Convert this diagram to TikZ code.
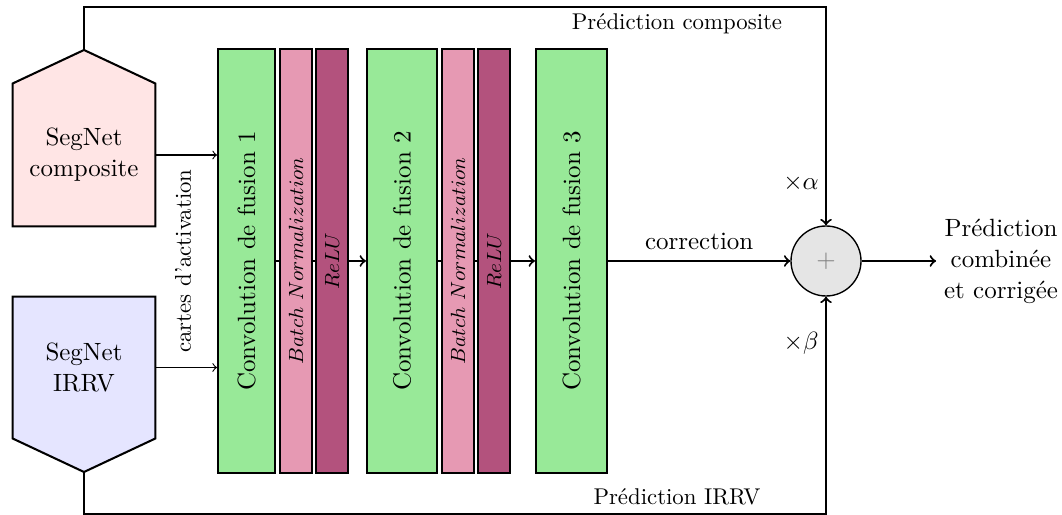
\documentclass[tikz,border=0pt]{standalone}
\usepackage{fontspec}
\usetikzlibrary{backgrounds}
\def\pxu{0.4386pt}
\definecolor{convgreen}{RGB}{152,233,152}
\definecolor{bnpink}{RGB}{230,153,179}
\definecolor{relupink}{RGB}{179,82,125}
\definecolor{compfill}{RGB}{255,229,229}
\definecolor{irrvfill}{RGB}{229,229,255}
\begin{document}
\begin{tikzpicture}[x=\pxu,y=-\pxu,
  every node/.style={font=\fontsize{10.95}{13.6}\selectfont},
  smalltext/.style={font=\fontsize{10}{12}\selectfont},
  mainline/.style={line width=0.9pt},
  thinline/.style={line width=0.5pt},
  layerbox/.style={draw, line width=0.9pt, inner sep=0pt, minimum height=424*\pxu},
  convbox/.style={layerbox, fill=convgreen},
  bnbox/.style={layerbox, fill=bnpink, minimum width=32*\pxu, font=\fontsize{9}{11}\selectfont},
  relubox/.style={layerbox, fill=relupink, minimum width=32*\pxu, font=\fontsize{9.5}{11.5}\selectfont},
  segbox/.style={inner sep=0pt, align=center, minimum width=142*\pxu},
]
\useasboundingbox (0,0) rectangle (1062,515);

% SegNet sources
\node[segbox, minimum height=142*\pxu] (segc) at (84,155) {SegNet\\composite};
\node[segbox, minimum height=141*\pxu] (segi) at (84,367.5) {SegNet\\IRRV};
\coordinate (capex) at (84,50);
\coordinate (iapex) at (84,472);
\begin{scope}[on background layer]
  \draw[mainline, fill=compfill] (segc.south west) -- (segc.north west) -- (capex) -- (segc.north east) -- (segc.south east) -- cycle;
  \draw[mainline, fill=irrvfill] (segi.north west) -- (segi.south west) -- (iapex) -- (segi.south east) -- (segi.north east) -- cycle;
\end{scope}

% layers
\node[convbox, minimum width=57*\pxu] (c1) at (246.5,261) {\rotatebox{90}{Convolution de fusion 1}};
\node[bnbox] (bn1) at (296,261) {\rotatebox{90}{$Batch\ Normalization$}};
\node[relubox] (r1) at (332,261) {\rotatebox{90}{$ReLU$}};
\node[convbox, minimum width=70*\pxu] (c2) at (402,261) {\rotatebox{90}{Convolution de fusion 2}};
\node[bnbox] (bn2) at (458,261) {\rotatebox{90}{$Batch\ Normalization$}};
\node[relubox] (r2) at (494,261) {\rotatebox{90}{$ReLU$}};
\node[convbox, minimum width=71*\pxu] (c3) at (571.5,261) {\rotatebox{90}{Convolution de fusion 3}};

\node[smalltext, rotate=90] (cartes) at (183,261) {cartes d'activation};

% sum and output
\node[circle, draw, line width=0.6pt, fill=gray!20, minimum size=70*\pxu, inner sep=0pt, text=gray] (sum) at (826,261) {$+$};
\node[align=center] (out) at (1001,261) {Prédiction\\combinée\\et corrigée};

\coordinate (tr) at (826,7);
\coordinate (br) at (826,514);

% connectors
\draw[thinline,->] (segc.east) -- (c1.west |- segc.east);
\draw[thinline,->] (segi.east) -- (c1.west |- segi.east);
\draw[mainline] (c1.east) -- (bn1.west);
\draw[mainline] (bn1.east) -- (r1.west);
\draw[mainline,->] (r1.east) -- (c2.west);
\draw[mainline] (c2.east) -- (bn2.west);
\draw[mainline] (bn2.east) -- (r2.west);
\draw[mainline,->] (r2.east) -- (c3.west);
\draw[mainline,->] (c3.east) -- node[above=1pt] (corr) {correction} (sum.west);
\draw[mainline,->] (sum.east) -- (out.west);
\draw[mainline,->] (capex) |- (tr) -- (sum.north);
\draw[mainline,->] (iapex) |- (br) -- (sum.south);

% labels
\node[smalltext] (lpc) at (677,24) {Prédiction composite};
\node[smalltext] (lpi) at (677,497) {Prédiction IRRV};
\node (alpha) at (801,183) {$\times\alpha$};
\node (beta) at (801,343) {$\times\beta$};
\end{tikzpicture}
\end{document}
